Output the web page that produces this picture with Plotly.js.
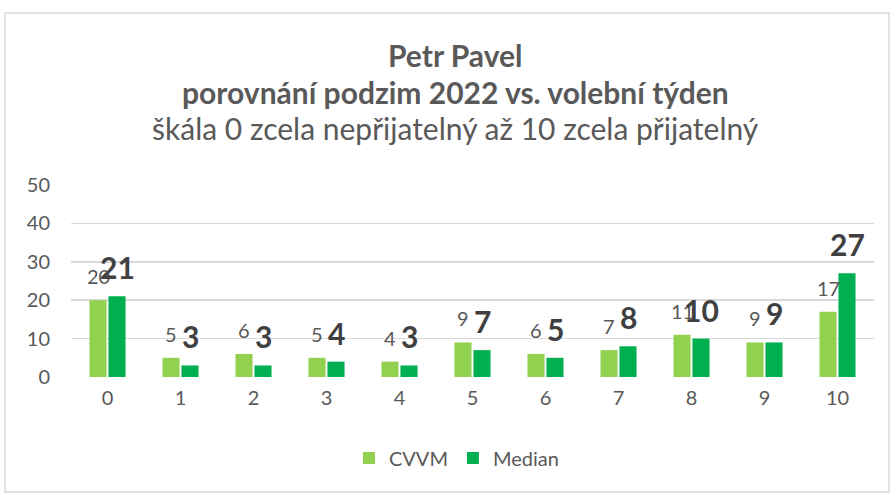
<!DOCTYPE html>
<html>
<head>
<meta charset="utf-8">
<script src="https://cdn.plot.ly/plotly-3.0.1.min.js"></script>
<style>html,body{margin:0;padding:0;background:#fff;}#chart{width:890px;height:493px;}</style>
</head>
<body>
<div id="chart"></div>
<script>
const categories = ["0","1","2","3","4","5","6","7","8","9","10"];
const cvvm = [20,5,6,5,4,9,6,7,11,9,17];
const median = [21,3,3,4,3,7,5,8,10,9,27];
const seriesNames = ["CVVM","Median"];
const yTicks = [0,10,20,30,40,50];
const titleLines = ["<b>Petr Pavel</b>", "<b>porovnání podzim 2022 vs. volební týden</b>", "škála 0 zcela nepřijatelný až 10 zcela přijatelný"];

const FONT = "Lato, 'Open Sans', sans-serif";
const traces = [
  {type:'bar', name:seriesNames[0], x:categories, y:cvvm, marker:{color:'#92d050'}, hoverinfo:'x+y'},
  {type:'bar', name:seriesNames[1], x:categories, y:median, marker:{color:'#00b050'}, hoverinfo:'x+y'}
];

const titleY = [55, 92, 128];
const titleAnn = titleLines.map((t,i)=>({text:t, xref:'paper', yref:'paper', x:(455-71)/803, xanchor:'center',
          y:(377-titleY[i])/192, yanchor:'middle', showarrow:false,
          font:{family:FONT, size:30, color:'#595959'}}));
const cvvmAnn = categories.map((c,i)=>({x:c, y:cvvm[i], xref:'x', yref:'y', text:String(cvvm[i]),
          showarrow:false, xanchor:'center', yanchor:'middle', xshift:-9.5, yshift:24,
          font:{family:FONT, size:20, color:'#595959'}}));
const medAnn = categories.map((c,i)=>({x:c, y:median[i], xref:'x', yref:'y', text:'<b>'+median[i]+'</b>',
          showarrow:false, xanchor:'center', yanchor:'middle', xshift:9.5, yshift:29,
          font:{family:FONT, size:30, color:'#404040'}}));

const layout = {
  width:890, height:493,
  margin:{l:71, r:16, t:185, b:116},
  paper_bgcolor:'#fff', plot_bgcolor:'#fff',
  font:{family:FONT, color:'#595959', size:20},
  barmode:'group', bargap:0.48, bargroupgap:0.1,
  xaxis:{type:'category', showgrid:false, zeroline:false, showline:false,
         ticks:'', tickfont:{size:20, color:'#595959'}, ticklabelstandoff:7},
  yaxis:{range:[0,50], tickvals:yTicks, showgrid:true, gridcolor:'#d9d9d9', gridwidth:1.5,
         zeroline:false, showline:false, ticks:'', tickfont:{size:20, color:'#595959'}, ticklabelstandoff:20},
  showlegend:true,
  legend:{orientation:'h', x:0.48, xanchor:'center', y:-0.32, yanchor:'top',
          font:{size:20, color:'#595959'}, traceorder:'normal', itemwidth:30},
  annotations: titleAnn.concat(cvvmAnn, medAnn),
  shapes:[{type:'rect', xref:'paper', yref:'paper',
           x0:(5-71)/803, x1:(889-71)/803, y0:(377-492)/192, y1:(377-13)/192,
           line:{color:'#d9d9d9', width:1.5}, fillcolor:'rgba(0,0,0,0)', layer:'below'}]
};

Plotly.newPlot('chart', traces, layout, {displayModeBar:false, staticPlot:true});
</script>
</body>
</html>
